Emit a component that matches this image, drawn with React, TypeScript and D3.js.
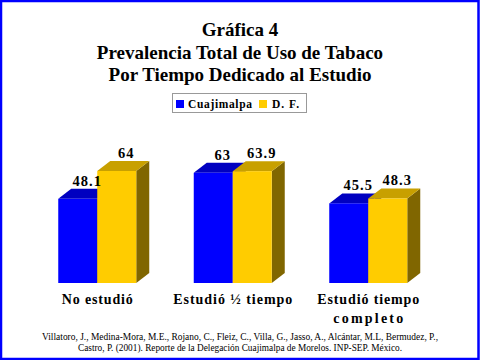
import React from "react";
import * as d3 from "d3";

const categories = ["No estudió", "Estudió ½ tiempo", "Estudió tiempo|completo"];
const seriesNames = ["Cuajimalpa", "D. F."];
const cuajimalpa = [48.1, 63, 45.5];
const df = [64, 63.9, 48.3];
const valueLabels = [["48.1", "63", "45.5"], ["64", "63.9", "48.3"]];
const titleLines = ["Gráfica 4", "Prevalencia Total de Uso de Tabaco", "Por Tiempo Dedicado al Estudio"];
const citation = [
  "Villatoro, J., Medina-Mora, M.E., Rojano, C., Fleiz, C., Villa, G., Jasso, A., Alcántar, M.L, Bermudez, P.,",
  "Castro, P. (2001). Reporte de la Delegación Cuajimalpa de Morelos. INP-SEP. México.",
];
const citationWidths = [396, 324];
const categoryLineWidths = [[71], [119], [102, 70]];
const legendWidths = [64, 27];

const colors = [
  { front: "#0000FF", top: "#0000C0", side: "#000080" },
  { front: "#FFCC00", top: "#C8A000", side: "#806600" },
];

const W = 480;
const H = 360;
const DX = 13;
const DY = 10;
const serif = "'Liberation Serif', 'Times New Roman', serif";

export default function App() {
  const x = d3.scaleBand<string>().domain(categories).range([29.5, 436]).paddingInner(0).paddingOuter(0);
  const inner = d3.scaleBand<string>().domain(seriesNames).range([0, 78]).padding(0);
  const y = d3.scaleLinear().domain([0, 80]).range([283, 143]);
  const data = [cuajimalpa, df];

  const bars: React.ReactNode[] = [];
  const labels: React.ReactNode[] = [];
  categories.forEach((c, ci) => {
    const gx = (x(c) as number) + x.bandwidth() / 2 - 39;
    seriesNames.forEach((s, si) => {
      const v = data[si][ci];
      const x0 = gx + (inner(s) as number);
      const w = inner.bandwidth();
      const y0 = y(0);
      const y1 = y(v);
      const col = colors[si];
      bars.push(
        <g key={`${ci}-${si}`}>
          <polygon
            points={`${x0 + w},${y0} ${x0 + w + DX},${y0 - DY} ${x0 + w + DX},${y1 - DY} ${x0 + w},${y1}`}
            fill={col.side}
          />
          <polygon
            points={`${x0},${y1} ${x0 + DX},${y1 - DY} ${x0 + w + DX},${y1 - DY} ${x0 + w},${y1}`}
            fill={col.top}
          />
          <rect x={x0} y={y1} width={w} height={y0 - y1} fill={col.front} />
        </g>
      );
      labels.push(
        <text
          key={`l-${ci}-${si}`}
          x={x0 + w / 2 + DX / 2 + 3}
          y={y1 - DY - 3}
          textAnchor="middle"
          fontFamily={serif}
          fontWeight="bold"
          fontSize={14.5}
          letterSpacing={1}
          fill="#000"
        >
          {valueLabels[si][ci]}
        </text>
      );
    });
  });

  return (
    <svg
      width={W}
      height={H}
      viewBox={`0 0 ${W} ${H}`}
      style={{ position: "absolute", left: 0, top: 0, background: "#fff" }}
    >
      <rect x={0} y={0} width={W} height={H} fill="#fff" />
      {titleLines.map((t, i) => (
        <text
          key={t}
          x={W / 2}
          y={36 + i * 22.5}
          textAnchor="middle"
          fontFamily={serif}
          fontWeight="bold"
          fontSize={19}
          fill="#000"
        >
          {t}
        </text>
      ))}
      <g>
        <rect x={172.5} y={93.5} width={134} height={19} fill="#fff" stroke="#999" strokeWidth={1} />
        <rect x={176} y={100} width={8} height={8} fill={colors[0].front} />
        <text
          x={188}
          y={108}
          fontFamily={serif}
          fontWeight="bold"
          fontSize={11.5}
          textLength={legendWidths[0]}
          lengthAdjust="spacing"
          fill="#000"
        >
          {seriesNames[0]}
        </text>
        <rect x={259} y={100} width={8} height={8} fill={colors[1].front} />
        <text
          x={272}
          y={108}
          fontFamily={serif}
          fontWeight="bold"
          fontSize={11.5}
          textLength={legendWidths[1]}
          lengthAdjust="spacing"
          fill="#000"
        >
          {seriesNames[1]}
        </text>
      </g>
      {bars}
      {labels}
      {categories.map((c, ci) => {
        const lines = c.split("|");
        const cx = (x(c) as number) + x.bandwidth() / 2;
        return lines.map((l, i) => (
          <text
            key={`${c}-${i}`}
            x={cx}
            y={304 + i * 19}
            textAnchor="middle"
            fontFamily={serif}
            fontWeight="bold"
            fontSize={14}
            textLength={categoryLineWidths[ci][i]}
            lengthAdjust="spacing"
            fill="#000"
          >
            {l}
          </text>
        ));
      })}
      {citation.map((t, i) => (
        <text
          key={i}
          x={W / 2}
          y={340 + i * 11}
          textAnchor="middle"
          fontFamily={serif}
          fontSize={10}
          textLength={citationWidths[i]}
          lengthAdjust="spacingAndGlyphs"
          fill="#000"
        >
          {t}
        </text>
      ))}
      <rect x={1} y={1} width={W - 2.5} height={H - 2} fill="none" stroke="#0000FF" strokeWidth={2.5} />
    </svg>
  );
}
